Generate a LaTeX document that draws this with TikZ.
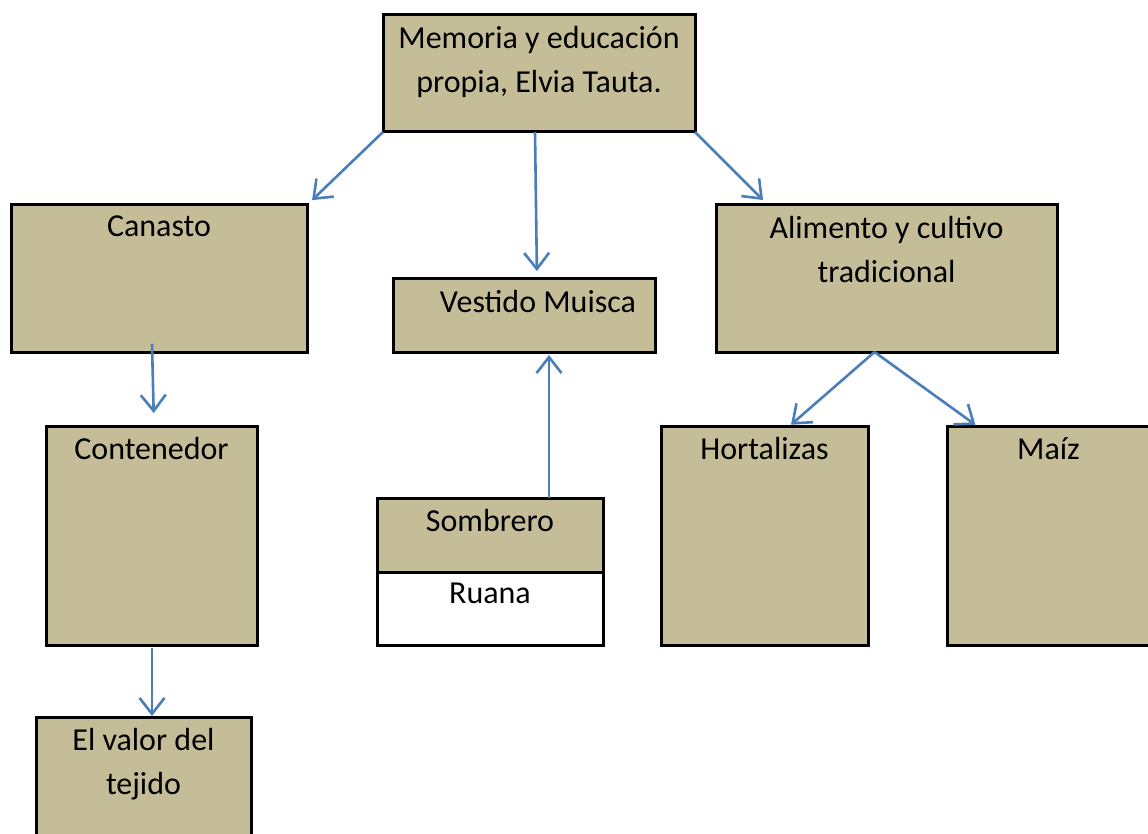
\documentclass[tikz,border=0pt]{standalone}
\usepackage{fontspec}
\setmainfont{Carlito}
\usepackage{tikz}
\usetikzlibrary{calc,positioning,arrows.meta}
\definecolor{tanfill}{HTML}{C4BD97}
\definecolor{linkblue}{HTML}{4A7EBB}
\tikzset{
  tanbox/.style={
    rectangle,
    fill=tanfill,
    draw=black, line width=3pt,
    outer sep=0pt,
    inner sep=0pt},
  plainbox/.style={tanbox, fill=white},
  boxtext/.style={
    anchor=north, yshift=-11pt,
    inner sep=0pt,
    align=center,
    font=\fontsize{32}{44}\selectfont},
  link/.style={draw=linkblue, line width=2.6pt,
    -{Straight Barb[length=16pt,width=25pt,line width=2.6pt]}},
}

\begin{document}
\begin{tikzpicture}[x=1pt, y=-1pt]
    \useasboundingbox (0,0) rectangle (1148,834);
    % top node
    \node[tanbox, minimum width=312, minimum height=117,
      label={[boxtext]north:Memoria y educación\\propia, Elvia Tauta.}] (memoria) at (539,73.5) {};

    % second row
    \node[tanbox, minimum width=296, minimum height=147,
      label={[boxtext]north:Canasto}] (canasto) at (159,278.5) {};
    \node[tanbox, minimum width=262, minimum height=73,
      label={[boxtext, xshift=14pt]north:Vestido Muisca}] (vestido) at (524,315.5) {};
    \node[tanbox, minimum width=341, minimum height=147,
      label={[boxtext]north:Alimento y cultivo\\tradicional}] (alimento) at (886.5,278.5) {};

    % third row
    \node[tanbox, minimum width=211, minimum height=219,
      label={[boxtext]north:Contenedor}] (contenedor) at (151.5,535.5) {};
    \node[tanbox, minimum width=226, minimum height=74,
      label={[boxtext]north:Sombrero}] (sombrero) at (490,535) {};
    \node[plainbox, minimum width=226, minimum height=73, below=0pt of sombrero,
      label={[boxtext]north:Ruana}] (ruana) {};
    \node[tanbox, minimum width=207, minimum height=219,
      label={[boxtext]north:Hortalizas}] (hortalizas) at (764.5,535.5) {};
    \node[tanbox, minimum width=203, minimum height=219,
      label={[boxtext]north:Maíz}] (maiz) at (1048.5,535.5) {};

    % bottom node, runs off the page
    \node[tanbox, minimum width=215, minimum height=130,
      label={[boxtext]north:El valor del\\tejido}] (valor) at (143.5,782) {};

    % connectors
    \draw[link, shorten >=7pt] (memoria.south west) -- (canasto.north east);
    \draw[link, shorten >=8pt] ($(memoria.south)+(-4,0)$) -- ($(vestido.north)+(13,0)$);
    \draw[link, shorten >=7pt] (memoria.south east) -- ($(alimento.north west)+(52,0)$);
    \draw[link, shorten >=13pt] ($(canasto.south)+(-7,-8)$) -- ($(contenedor.north)+(2.5,0)$);
    \draw[link, shorten >=3pt] ($(sombrero.north)+(59,0)$) -- ($(vestido.south)+(25,0)$);
    \draw[link, shorten >=2pt] ($(alimento.south)+(-12,0)$) -- ($(hortalizas.north)+(25,0)$);
    \draw[link, shorten >=2pt] ($(alimento.south)+(-12,0)$) -- ($(maiz.north west)+(30,0)$);
    \draw[link, shorten >=1pt] ($(contenedor.south)+(0.5,3)$) -- ($(valor.north)+(8.5,0)$);
\end{tikzpicture}
\end{document}
